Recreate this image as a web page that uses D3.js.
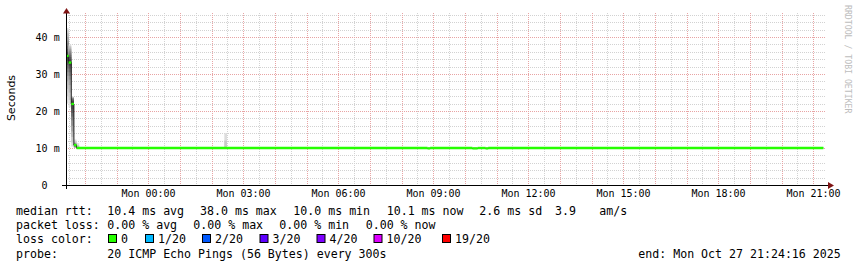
<!DOCTYPE html>
<html>
<head>
<meta charset="utf-8">
<script src="https://cdn.jsdelivr.net/npm/d3@7"></script>
<style>
    body {margin: 0; background: #ffffff;}
    text {font-family: "DejaVu Sans Mono", monospace; fill: #000000;}
</style>
</head>
<body>
<div id="chart"></div>
<script>
// time span of the graph
let endTime = new Date(2025, 9, 27, 21, 24, 16)
let spanHours = 24
let stepSeconds = 300
let lastStep = 287

// median rtt (ms): step index where a value starts and the value from there on
let medianStep = [0, 1, 2, 3, 4, 137, 138, 154, 156, 159, 160]
let medianMs = [34.9, 33.1, 21.9, 10.8, 10.0, 9.9, 10.0, 9.9, 10.0, 9.9, 10.0]

// the 20 sorted pings of the steps that show smoke (elsewhere all pings sit on the median)
let smokeStep = [0, 1, 2, 3, 4, 60]
let smokePings = [
    [22.0, 24.0, 26.0, 28.0, 29.5, 30.5, 31.5, 32.5, 33.5, 34.5, 35.3, 36.0, 36.8, 37.5, 38.3, 39.0, 40.0, 41.0, 41.8, 42.4],
    [21.0, 23.0, 25.0, 27.0, 28.5, 29.5, 30.5, 31.5, 32.3, 32.9, 33.3, 34.0, 34.6, 35.2, 35.8, 36.3, 36.8, 37.2, 37.6, 38.0],
    [10.4, 11.5, 13.0, 14.5, 16.0, 17.5, 18.5, 19.5, 20.5, 21.5, 22.3, 22.7, 23.0, 23.2, 23.4, 23.5, 23.6, 23.7, 23.8, 23.9],
    [10.0, 10.0, 10.1, 10.2, 10.3, 10.4, 10.5, 10.6, 10.7, 10.8, 10.8, 10.9, 11.0, 11.0, 11.1, 11.2, 11.3, 11.5, 11.8, 12.3],
    [10.0, 10.0, 10.0, 10.0, 10.0, 10.0, 10.0, 10.0, 10.0, 10.0, 10.0, 10.0, 10.0, 10.0, 10.0, 10.1, 10.2, 10.4, 10.8, 11.3],
    [10.0, 10.0, 10.0, 10.0, 10.0, 10.0, 10.0, 10.0, 10.0, 10.0, 10.0, 10.0, 10.0, 10.0, 10.0, 10.0, 10.0, 10.0, 12.0, 14.0]
]

// y ticks (ms)
let yTicks = [0, 10, 20, 30, 40]
let yMax = 46.5

// loss legend
let lossLabels = ["0", "1/20", "2/20", "3/20", "4/20", "10/20", "19/20"]
let lossColors = ["#26ff00", "#00b8ff", "#0059ff", "#5e00ff", "#7e00ff", "#dd00ff", "#ff0000"]

// statistics lines of the legend
let rttStats = ["10.4 ms avg", "38.0 ms max", "10.0 ms min", "10.1 ms now", "2.6 ms sd", "3.9", "am/s"]
let lossStats = ["0.00 % avg", "0.00 % max", "0.00 % min", "0.00 % now"]
let probeText = "20 ICMP Echo Pings (56 Bytes) every 300s"
let endText = "end: Mon Oct 27 21:24:16 2025"

let width = 857, height = 267
let plot = {left: 66, right: 826, top: 13, bottom: 185}

let svg = d3.select("#chart")
    .append("svg")
    .attr("width", width)
    .attr("height", height)

svg.append("rect").attr("width", width).attr("height", height).attr("fill", "#ffffff")

let startTime = new Date(endTime.getTime() - spanHours * 3600 * 1000)

let x = d3.scaleTime()
    .domain([startTime, endTime])
    .range([plot.left, plot.right])

let y = d3.scaleLinear()
    .domain([0, yMax])
    .range([plot.bottom, plot.top])

function stepTime(k) {
    return new Date(startTime.getTime() + k * stepSeconds * 1000)
}
function crisp(v) {return Math.round(v) + 0.5}

// grid lines: minor every 30 minutes / 2 ms, major every hour / 10 ms
let grid = svg.append("g")
let minorX = d3.timeMinute.every(30).range(startTime, endTime)
let majorX = d3.timeHour.every(1).range(startTime, endTime)
let minorY = d3.range(0, yMax, 2).filter(v => v % 10 !== 0)

grid.selectAll(".minor-x")
    .data(minorX)
    .enter()
    .append("line")
    .attr("x1", d => crisp(x(d))).attr("x2", d => crisp(x(d)))
    .attr("y1", plot.top).attr("y2", plot.bottom)
    .style("stroke", "#d2d2d2")
    .style("stroke-dasharray", "1,1")

grid.selectAll(".minor-y")
    .data(minorY)
    .enter()
    .append("line")
    .attr("x1", plot.left).attr("x2", plot.right)
    .attr("y1", d => crisp(y(d))).attr("y2", d => crisp(y(d)))
    .style("stroke", "#d2d2d2")
    .style("stroke-dasharray", "1,1")

grid.selectAll(".major-x")
    .data(majorX)
    .enter()
    .append("line")
    .attr("x1", d => crisp(x(d))).attr("x2", d => crisp(x(d)))
    .attr("y1", plot.top).attr("y2", plot.bottom)
    .style("stroke", "#e8a4a4")
    .style("stroke-dasharray", "1,1")

grid.selectAll(".major-y")
    .data(yTicks.filter(v => v > 0))
    .enter()
    .append("line")
    .attr("x1", plot.left).attr("x2", plot.right)
    .attr("y1", d => crisp(y(d))).attr("y2", d => crisp(y(d)))
    .style("stroke", "#e8a4a4")
    .style("stroke-dasharray", "1,1")

// smoke: pairs of pings from the outside in, lighter to darker
let smoke = svg.append("g")
smokeStep.forEach(function(k, j) {
    let pings = smokePings[j]
    let half = pings.length / 2
    for (let i = 0; i < half; i++) {
        let level = Math.floor(190 / half * (half - (i + 1))) + 50
        let lo = pings[i], hi = pings[pings.length - 1 - i]
        if (hi - lo <= 0) continue
        smoke.append("rect")
            .attr("x", x(stepTime(k)))
            .attr("width", x(stepTime(k + 1)) - x(stepTime(k)))
            .attr("y", y(hi))
            .attr("height", y(lo) - y(hi))
            .style("fill", d3.rgb(level, level, level))
    }
})

// median line, dark thin line below the loss coloured line
let medianPoints = medianStep.map((k, i) => [stepTime(k), medianMs[i]])
medianPoints.push([stepTime(lastStep), medianMs[medianMs.length - 1]])

let medianLine = d3.line()
    .x(d => x(d[0]))
    .y(d => y(d[1]))
    .curve(d3.curveStepAfter)

svg.append("path")
    .datum(medianPoints)
    .attr("d", medianLine)
    .style("fill", "none")
    .style("stroke", "#202020")
    .style("stroke-width", 1)

// only the horizontal parts of the loss line are drawn in colour
let green = svg.append("g")
medianStep.forEach(function(k, i) {
    let kEnd = i + 1 < medianStep.length ? medianStep[i + 1] : lastStep
    green.append("line")
        .attr("x1", x(stepTime(k)))
        .attr("x2", x(stepTime(kEnd)))
        .attr("y1", y(medianMs[i]))
        .attr("y2", y(medianMs[i]))
        .style("stroke", lossColors[0])
        .style("stroke-width", 2.4)
})

// axes
let axisColor = "#000000", arrowColor = "#7f1414"
svg.append("line")
    .attr("x1", 62).attr("x2", 830)
    .attr("y1", plot.bottom + 0.5).attr("y2", plot.bottom + 0.5)
    .style("stroke", axisColor)
svg.append("line")
    .attr("x1", plot.left + 0.5).attr("x2", plot.left + 0.5)
    .attr("y1", plot.top - 1).attr("y2", plot.bottom + 4)
    .style("stroke", axisColor)
svg.append("path")
    .attr("d", "M828,182L834,185.5L828,189Z")
    .style("fill", arrowColor)
svg.append("path")
    .attr("d", "M63,13.5L66.5,8L70,13.5Z")
    .style("fill", arrowColor)

// x labels every 3 hours
let xLabels = d3.timeHour.every(3).range(startTime, endTime)
svg.selectAll(".x-label")
    .data(xLabels)
    .enter()
    .append("text")
    .attr("x", d => crisp(x(d)))
    .attr("y", 197)
    .style("text-anchor", "middle")
    .style("font-size", "10px")
    .text(d => d3.timeFormat("Mon %H:%M")(d))

// y labels: number right aligned, then the unit
let yLab = svg.append("g")
yLab.selectAll(".y-num")
    .data(yTicks)
    .enter()
    .append("text")
    .attr("x", 47.5)
    .attr("y", d => y(d) + 3.5)
    .style("text-anchor", "end")
    .style("font-size", "10px")
    .text(d => d)
yLab.selectAll(".y-unit")
    .data(yTicks.filter(v => v > 0))
    .enter()
    .append("text")
    .attr("x", 53.8)
    .attr("y", d => y(d) + 3.5)
    .style("font-size", "10px")
    .text("m")

// vertical axis title
svg.append("text")
    .attr("transform", "translate(15,98) rotate(-90)")
    .style("text-anchor", "middle")
    .style("font-family", "'DejaVu Sans', sans-serif")
    .style("font-size", "11px")
    .text("Seconds")

// watermark
svg.append("text")
    .attr("transform", "translate(844.5,5) rotate(90)")
    .style("font-size", "8.2px")
    .style("fill", "#bdbdbd")
    .text("RRDTOOL / TOBI OETIKER")

// legend
let legendFont = "11.6px"
function legendText(tx, ty, s) {
    svg.append("text")
        .attr("x", tx)
        .attr("y", ty)
        .style("font-size", legendFont)
        .attr("xml:space", "preserve")
        .text(s)
}
let rttX = [107.3, 200, 293.3, 386.7, 479.3, 555, 599.3]
let lossX = [107.3, 193.3, 279.3, 365.7]
let boxX = [108, 145, 202, 259.5, 316.5, 373.5, 442]

legendText(16, 215, "median rtt:")
rttStats.forEach((s, i) => legendText(rttX[i], 215, s))

legendText(16, 229, "packet loss:")
lossStats.forEach((s, i) => legendText(lossX[i], 229, s))

legendText(16, 243, "loss color:")
lossLabels.forEach(function(s, i) {
    svg.append("rect")
        .attr("x", boxX[i] + 0.5)
        .attr("y", 234.5)
        .attr("width", 8)
        .attr("height", 8)
        .style("fill", lossColors[i])
        .style("stroke", "#000000")
        .style("stroke-width", 1)
    legendText(boxX[i] + 13, 243, s)
})

legendText(16, 257.5, "probe:")
legendText(107.3, 257.5, probeText)
legendText(638.3, 257.5, endText)
</script>
</body>
</html>
